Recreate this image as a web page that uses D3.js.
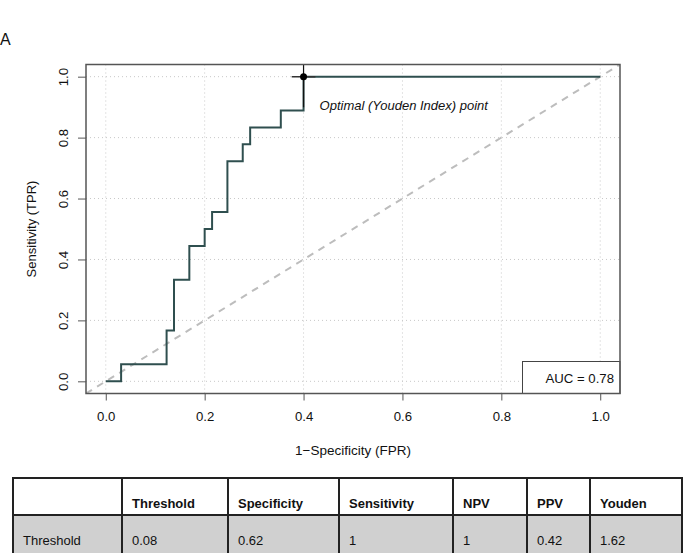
<!DOCTYPE html>
<html>
<head>
<meta charset="utf-8">
<script src="https://cdn.jsdelivr.net/npm/d3@7"></script>
<style>
  body { margin: 0; background: #fff; }
  svg text { font-family: "Liberation Sans", Arial, sans-serif; }
</style>
</head>
<body>
<div id="chart"></div>
<script>
// ROC step points (1-specificity, sensitivity)
var fpr  = [0, 0.031, 0.123, 0.138, 0.169, 0.2, 0.215, 0.246, 0.277, 0.292, 0.354, 0.4, 1];
var tpr  = [0, 0.056, 0.167, 0.333, 0.444, 0.5, 0.556, 0.722, 0.778, 0.833, 0.889, 1, 1];
var ticks = [0, 0.2, 0.4, 0.6, 0.8, 1];
var optimal = {x: 0.4, y: 1};
var ciX = [0.376, 0.424],
    ciY = [0.9, 1.04];
var aucLabel = 'AUC = 0.78';

// table
var tableHeader = ['', 'Threshold', 'Specificity', 'Sensitivity', 'NPV', 'PPV', 'Youden'];
var tableRow = ['Threshold', '0.08', '0.62', '1', '1', '0.42', '1.62'];
var colEdges = [13, 122, 228, 339, 453, 527, 590, 682];

function Roc(){
    this.sizes = {width: 684, height: 553};
    this.frame = {left: 86, right: 620, top: 64.5, bottom: 393.5};
}

Roc.prototype.make_svg = function(){
    this.svg = d3.select('#chart').append('svg')
        .attr('width', this.sizes.width)
        .attr('height', this.sizes.height);
    this.x = d3.scaleLinear().domain([-0.04, 1.04]).range([this.frame.left, this.frame.right]);
    this.y = d3.scaleLinear().domain([-0.04, 1.04]).range([this.frame.bottom, this.frame.top]);
};

Roc.prototype.draw_axes = function(){
    var svg = this.svg, x = this.x, y = this.y, f = this.frame;

    // dotted grid
    svg.append('g').selectAll('line').data(ticks).enter().append('line')
        .attr('x1', function(d){ return x(d); }).attr('x2', function(d){ return x(d); })
        .attr('y1', f.top).attr('y2', f.bottom)
        .attr('stroke', '#c8c8c8').attr('stroke-dasharray', '1,3');
    svg.append('g').selectAll('line').data(ticks).enter().append('line')
        .attr('y1', function(d){ return y(d); }).attr('y2', function(d){ return y(d); })
        .attr('x1', f.left).attr('x2', f.right)
        .attr('stroke', '#c8c8c8').attr('stroke-dasharray', '1,3');

    var xa = svg.append('g')
        .attr('transform', 'translate(0,' + f.bottom + ')')
        .call(d3.axisBottom(x).tickValues(ticks).tickFormat(d3.format('.1f')).tickSize(7).tickPadding(11));
    var ya = svg.append('g')
        .attr('transform', 'translate(' + f.left + ',0)')
        .call(d3.axisLeft(y).tickValues(ticks).tickFormat(d3.format('.1f')).tickSize(8));
    [xa, ya].forEach(function(a){
        a.select('.domain').remove();
        a.selectAll('line').attr('stroke', '#555');
        a.selectAll('text').attr('font-size', 13.2).attr('fill', '#111');
    });
    // rotated y tick labels, like R
    ya.selectAll('text')
        .attr('x', null).attr('dy', null)
        .attr('text-anchor', 'middle')
        .attr('transform', 'translate(-18,0) rotate(-90)');

    svg.append('text').attr('x', (f.left + f.right) / 2).attr('y', 455)
        .attr('text-anchor', 'middle').attr('font-size', 13.5).attr('fill', '#111')
        .text('1\u2212Specificity (FPR)');
    svg.append('text')
        .attr('transform', 'translate(36,' + ((f.top + f.bottom) / 2) + ') rotate(-90)')
        .attr('text-anchor', 'middle').attr('font-size', 13).attr('fill', '#111')
        .text('Sensitivity (TPR)');
    svg.append('text').attr('x', 0).attr('y', 45)
        .attr('font-size', 16).attr('fill', '#111').text('A');
};

Roc.prototype.draw_curve = function(){
    var svg = this.svg, x = this.x, y = this.y, f = this.frame;

    svg.append('clipPath').attr('id', 'plotclip').append('rect')
        .attr('x', f.left).attr('y', f.top)
        .attr('width', f.right - f.left).attr('height', f.bottom - f.top);
    var g = svg.append('g').attr('clip-path', 'url(#plotclip)');

    // chance line
    g.append('line')
        .attr('x1', x(-0.04)).attr('y1', y(-0.04))
        .attr('x2', x(1.04)).attr('y2', y(1.04))
        .attr('stroke', '#bdbdbd').attr('stroke-width', 2).attr('stroke-dasharray', '7,6');

    var pts = fpr.map(function(d, i){ return [d, tpr[i]]; });
    var line = d3.line()
        .x(function(d){ return x(d[0]); })
        .y(function(d){ return y(d[1]); })
        .curve(d3.curveStepAfter);
    g.append('path').datum(pts)
        .attr('d', line)
        .attr('fill', 'none')
        .attr('stroke', '#2f4f4f')
        .attr('stroke-width', 2);

    // optimal point + CI cross
    g.append('line')
        .attr('x1', x(ciX[0])).attr('x2', x(ciX[1]))
        .attr('y1', y(optimal.y)).attr('y2', y(optimal.y))
        .attr('stroke', '#333').attr('stroke-width', 1.5);
    g.append('line')
        .attr('x1', x(optimal.x)).attr('x2', x(optimal.x))
        .attr('y1', y(ciY[0])).attr('y2', y(ciY[1]))
        .attr('stroke', '#111').attr('stroke-width', 1.2);
    g.append('circle')
        .attr('cx', x(optimal.x)).attr('cy', y(optimal.y)).attr('r', 3.5)
        .attr('fill', '#000');

    svg.append('text')
        .attr('x', x(optimal.x) + 16).attr('y', y(optimal.y) + 33)
        .attr('font-size', 13).attr('font-style', 'italic').attr('fill', '#111')
        .text('Optimal (Youden Index) point');

    // AUC legend box
    svg.append('rect')
        .attr('x', 522.5).attr('y', 361.5)
        .attr('width', f.right - 522.5).attr('height', f.bottom - 361.5)
        .attr('fill', '#fff').attr('stroke', '#444').attr('stroke-width', 1);
    svg.append('text')
        .attr('x', 614).attr('y', 383)
        .attr('text-anchor', 'end').attr('font-size', 13.2).attr('fill', '#111')
        .text(aucLabel);

    // frame
    svg.append('rect')
        .attr('x', f.left).attr('y', f.top)
        .attr('width', f.right - f.left).attr('height', f.bottom - f.top)
        .attr('fill', 'none').attr('stroke', '#555').attr('stroke-width', 1.5);
};

Roc.prototype.draw_table = function(){
    var svg = this.svg;
    var top = 478, mid = 515, bottom = 556;
    var t = svg.append('g');

    t.append('rect').attr('x', colEdges[0]).attr('y', mid)
        .attr('width', colEdges[colEdges.length - 1] - colEdges[0]).attr('height', bottom - mid)
        .attr('fill', '#d0d0d0');

    t.selectAll('.hd').data(tableHeader).enter().append('text')
        .attr('x', function(d, i){ return colEdges[i] + 10; })
        .attr('y', 507.5)
        .attr('font-size', 13).attr('font-weight', 'bold').attr('fill', '#111')
        .text(function(d){ return d; });
    t.selectAll('.rw').data(tableRow).enter().append('text')
        .attr('x', function(d, i){ return colEdges[i] + 10; })
        .attr('y', 545)
        .attr('font-size', 13).attr('fill', '#111')
        .text(function(d){ return d; });

    // grid lines
    [top, mid, bottom].forEach(function(yy){
        t.append('line').attr('x1', colEdges[0] - 1).attr('x2', colEdges[colEdges.length - 1] + 1)
            .attr('y1', yy).attr('y2', yy)
            .attr('stroke', '#222').attr('stroke-width', 2);
    });
    colEdges.forEach(function(xx){
        t.append('line').attr('x1', xx).attr('x2', xx)
            .attr('y1', top).attr('y2', bottom)
            .attr('stroke', '#222').attr('stroke-width', 2);
    });
};

Roc.prototype.runit = function(){
    this.make_svg();
    this.draw_axes();
    this.draw_curve();
    this.draw_table();
};

// MAIN()
var roc = new Roc();
roc.runit();
</script>
</body>
</html>
